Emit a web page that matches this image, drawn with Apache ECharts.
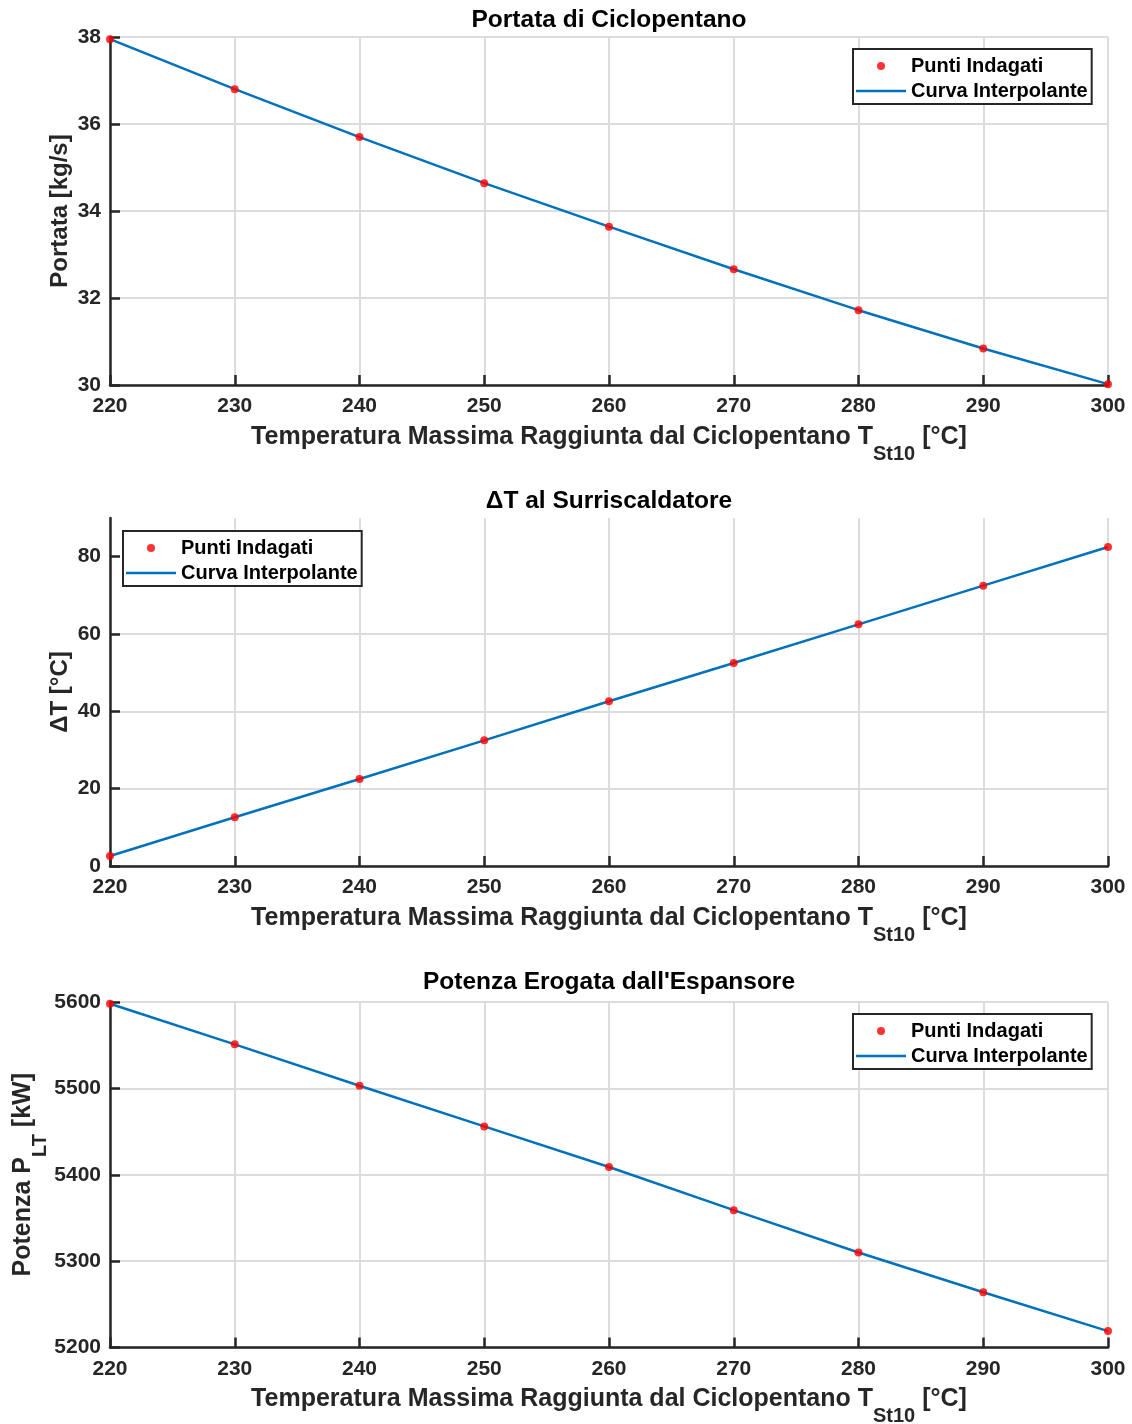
<!DOCTYPE html>
<html>
<head>
<meta charset="utf-8">
<script src="https://cdn.jsdelivr.net/npm/echarts@6/dist/echarts.min.js"></script>
<style>
html,body{margin:0;padding:0;background:#fff;}
#chart{width:1132px;height:1424px;}
</style>
</head>
<body>
<div id="chart"></div>
<script>
// ---- data ----
const temperature = [220, 230, 240, 250, 260, 270, 280, 290, 300];
const portata = [37.95, 36.80, 35.70, 34.64, 33.64, 32.66, 31.72, 30.84, 30.02];
const deltaT = [2.6, 12.6, 22.5, 32.5, 42.6, 52.5, 62.5, 72.5, 82.5];
const potenza = [5598, 5551, 5503, 5456, 5409, 5359, 5310, 5264, 5219];

const titles = ['Portata di Ciclopentano', '\u0394T al Surriscaldatore', "Potenza Erogata dall'Espansore"];
const xName = ['Temperatura Massima Raggiunta dal Ciclopentano T', 'St10', ' [\u00B0C]'];
const yNames = ['Portata [kg/s]', '\u0394T [\u00B0C]', ['Potenza P', 'LT', ' [kW]']];
const legendNames = ['Punti Indagati', 'Curva Interpolante'];

// ---- style ----
const FONT = '"Liberation Sans", Arial, Helvetica, sans-serif';
const DARK = '#262626';
const BLUE = '#0072BD';
const RED = '#ff0000';
const GRIDC = '#dcdcdc';

const grids = [
  {left: 110, right: 24, top: 37, height: 348, outerBoundsMode: 'none', containLabel: false},
  {left: 110, right: 24, top: 518, height: 348, outerBoundsMode: 'none', containLabel: false},
  {left: 110, right: 24, top: 1002, height: 345.5, outerBoundsMode: 'none', containLabel: false}
];
const yRanges = [
  {min: 30, max: 38, interval: 2},
  {min: 0, max: 90, interval: 20},
  {min: 5200, max: 5600, interval: 100}
];
const ySeries = [portata, deltaT, potenza];
const titleY = [20, 501, 982];
const legendPos = [{left: 853, top: 49}, {left: 123, top: 531}, {left: 853, top: 1014}];

const mainRich = {fontSize: 25, fontWeight: 'bold', fontFamily: FONT, color: DARK, lineHeight: 54};
const subRich = {fontSize: 20, fontWeight: 'bold', fontFamily: FONT, color: DARK, lineHeight: 20, verticalAlign: 'bottom'};

const xAxes = grids.map((g, i) => ({
  type: 'value', gridIndex: i, min: 220, max: 300, interval: 10,
  axisLine: {show: true, onZero: false, lineStyle: {color: DARK, width: 2.5}},
  axisTick: {show: true, inside: true, length: 10, lineStyle: {color: DARK, width: 2.5}},
  axisLabel: {color: DARK, fontSize: 21, fontWeight: 'bold', fontFamily: FONT, margin: 11},
  splitLine: {show: true, lineStyle: {color: GRIDC, width: 2}},
  name: '{m|' + xName[0] + '}{s|' + xName[1] + '}{m|' + xName[2] + '}',
  nameLocation: 'middle', nameGap: 25, nameMoveOverlap: false,
  nameTextStyle: {rich: {m: mainRich, s: subRich}}
}));

const yAxes = grids.map((g, i) => {
  const r = yRanges[i];
  let name, gap;
  if (Array.isArray(yNames[i])) {
    name = '{m|' + yNames[i][0] + '}{s|' + yNames[i][1] + '}{m|' + yNames[i][2] + '}';
    gap = 60;
  } else {
    name = '{n|' + yNames[i] + '}';
    gap = 38;
  }
  const ticks = [];
  for (let v = r.min; v <= r.max; v += r.interval) ticks.push(v);
  return {
    type: 'value', gridIndex: i, min: r.min, max: r.max, interval: r.interval,
    axisLine: {show: true, onZero: false, lineStyle: {color: DARK, width: 2.5}},
    axisTick: {show: true, inside: true, length: 10, lineStyle: {color: DARK, width: 2.5}, customValues: ticks},
    axisLabel: {color: DARK, fontSize: 21, fontWeight: 'bold', fontFamily: FONT, margin: 9, customValues: ticks,
                formatter: v => String(v)},
    splitLine: {show: true, showMaxLine: ticks[ticks.length - 1] === r.max, lineStyle: {color: GRIDC, width: 2}},
    name: name, nameLocation: 'middle', nameGap: gap, nameMoveOverlap: false,
    nameTextStyle: {rich: {m: mainRich, s: subRich, n: Object.assign({}, mainRich, {fontSize: 24, lineHeight: 24})}}
  };
});

const series = [];
grids.forEach((g, i) => {
  const pts = temperature.map((t, k) => [t, ySeries[i][k]]);
  series.push({
    name: legendNames[1], type: 'line', xAxisIndex: i, yAxisIndex: i,
    data: pts, showSymbol: false, symbol: 'none', smooth: false,
    lineStyle: {color: BLUE, width: 2.5}, itemStyle: {color: BLUE},
    z: 2, animation: false
  });
  series.push({
    name: legendNames[0], type: 'scatter', xAxisIndex: i, yAxisIndex: i,
    data: pts, symbol: 'circle', symbolSize: 8,
    itemStyle: {color: RED}, z: 3, animation: false
  });
});

const legends = legendPos.map(p => ({
  left: p.left, top: p.top, orient: 'vertical',
  data: [
    {name: legendNames[0], icon: 'circle'},
    {name: legendNames[1], icon: 'path://M0,0 L50,0 L50,2.5 L0,2.5 Z'}
  ],
  itemWidth: 50, itemHeight: 8, itemGap: 3,
  padding: [6, 4, 2, 3],
  borderColor: DARK, borderWidth: 2, backgroundColor: '#fff',
  textStyle: {color: '#000', fontSize: 20, fontWeight: 'bold', fontFamily: FONT, lineHeight: 22},
  selectedMode: false
}));

const graphics = titles.map((t, i) => ({
  type: 'text', x: 609, y: titleY[i],
  style: {text: t, fill: '#000', font: 'bold 24.5px ' + FONT, align: 'center', verticalAlign: 'middle'}
}));

const chart = echarts.init(document.getElementById('chart'), null, {renderer: 'canvas'});
chart.setOption({
  backgroundColor: '#fff',
  animation: false,
  grid: grids,
  xAxis: xAxes,
  yAxis: yAxes,
  legend: legends,
  series: series,
  graphic: graphics
});
</script>
</body>
</html>
